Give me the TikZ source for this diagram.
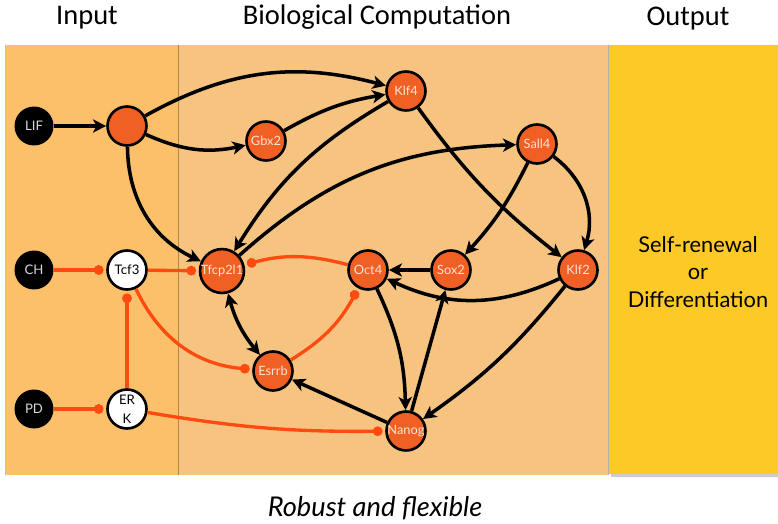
\documentclass[tikz,border=0pt]{standalone}
\usepackage{fontspec}
\setmainfont{Lato}
\newfontfamily\titlefont{Carlito}
\usetikzlibrary{arrows.meta}
\definecolor{inputbg}{RGB}{251,192,105}
\definecolor{biobg}{RGB}{246,196,128}
\definecolor{outbg}{RGB}{253,201,39}
\definecolor{genefill}{RGB}{240,95,35}
\definecolor{inhib}{RGB}{255,75,15}
\definecolor{genetext}{RGB}{255,228,210}
\tikzset{g/.style = {circle, draw, line width=1.5pt, fill=genefill, minimum size=0.78cm, inner sep=0pt, text=genetext, font=\fontsize{7.3}{8}\selectfont},
         s/.style = {circle, fill=black, minimum size=0.78cm, inner sep=0pt, text=white!85!black, font=\fontsize{7.5}{8}\selectfont},
         w/.style = {circle, draw, line width=1.5pt, fill=white, minimum size=0.78cm, inner sep=0pt, align=center, font=\fontsize{7.5}{9}\selectfont},
         act/.style = {->, line width=2pt},
         inh/.style = {-{Circle[length=5.5pt]}, line width=1.9pt, draw=inhib, shorten >=1.5pt}}

\begin{document}
\begin{tikzpicture}[x=0.02cm, y=-0.02cm, >={Stealth[length=7.5pt, width=7.5pt, inset=2pt]}]
    \useasboundingbox (0,0) rectangle (778,524);
    % panels
    \fill[inputbg] (5,45) rectangle (178,475);
    \fill[biobg] (178,45) rectangle (608,475);
    \fill[gray!40] (611,474) rectangle (778,477);
    \fill[outbg] (609,45) rectangle (778,474);
    \draw[gray!50, line width=0.5pt] (5,45) -- (5,475);
    \draw[black!30!inputbg, line width=0.5pt] (178,45) -- (178,475);
    \draw[gray!60, line width=0.6pt] (608.5,45) -- (608.5,475);
    \node[font=\titlefont\fontsize{16.2}{19}\selectfont] (tin) at (87,18) {Input};
    \node[font=\titlefont\fontsize{16.2}{19}\selectfont] (tbio) at (377,17) {Biological Computation};
    \node[font=\titlefont\fontsize{16.2}{19}\selectfont] (tout) at (688,19) {Output};
    \node[align=center, font=\fontsize{12.4}{15.5}\selectfont] (res) at (698,272) {Self-renewal\\or\\Differentiation};
    \node[font=\itshape\fontsize{15.5}{18}\selectfont] (robust) at (375,508) {Robust and flexible};

    \node[s] (lif) at (34,126) {LIF};
    \node[s] (ch) at (34,270) {CH};
    \node[s] (pd) at (34,409) {PD};
    \node[g] (hub) at (127,126) {};
    \node[w] (tcf) at (127,270) {Tcf3};
    \node[w, font=\fontsize{7.5}{11}\selectfont] (erk) at (127,409) {ER\\K};
    \node[g] (gbx) at (266,141) {Gbx2};
    \node[g] (klf4) at (406,91) {Klf4};
    \node[g] (sall) at (537,144) {Sall4};
    \node[g] (tfc) at (222,271) {Tfcp2l1};
    \node[g] (oct) at (368,270) {Oct4};
    \node[g] (sox) at (451,270) {Sox2};
    \node[g] (klf2) at (578,270) {Klf2};
    \node[g] (esr) at (273,371) {Esrrb};
    \node[g] (nan) at (406,431) {Nanog};

    \draw[act] (lif) -- (hub);
    \draw[act] (hub) to[bend left=22] (klf4);
    \draw[act] (hub) to[bend right=18] (gbx);
    \draw[act] (hub) to[bend right=32] (tfc);
    \draw[act] (gbx) to[bend left=10] (klf4);
    \draw[act] (klf4) to[bend right=14] (tfc);
    \draw[act] (tfc) to[bend left=20] (sall);
    \draw[act] (klf4) to[bend right=8] (klf2);
    \draw[act] (sall) to[bend left=8] (sox);
    \draw[act] (sall) to[bend left=35] (klf2);
    \draw[act] (sox) -- (oct);
    \draw[act] (klf2) to[bend left=25] (oct);
    \draw[act] (oct) to[bend left=12] (nan);
    \draw[act] (nan) -- (sox);
    \draw[act] (klf2) to[bend left=8] (nan);
    \draw[act] (nan) -- (esr);
    \draw[act, <->] (tfc) to[bend right=12] (esr);

    \draw[inh] (ch) -- (tcf);
    \draw[inh] (tcf) -- (tfc);
    \draw[inh] (erk) -- (tcf);
    \draw[inh] (pd) -- (erk);
    \draw[inh] (tcf) to[bend right=30] (esr);
    \draw[inh] (erk) to[bend right=5] (nan);
    \draw[inh] (oct) to[bend right=15] (tfc);
    \draw[inh] (esr) to[bend right=15] (oct);
\end{tikzpicture}
\end{document}
